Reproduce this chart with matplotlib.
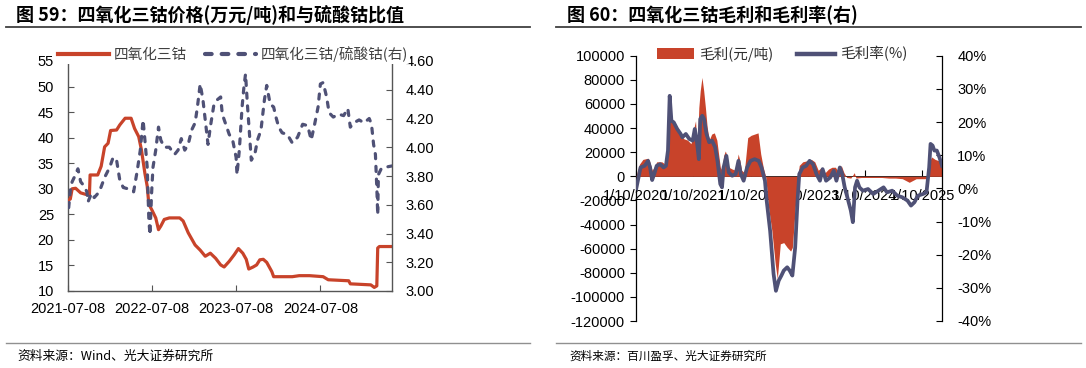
import matplotlib
matplotlib.use('Agg')
import matplotlib.pyplot as plt
import pandas as pd
import numpy as np
from matplotlib.lines import Line2D
from matplotlib.patches import Patch

plt.rcParams['font.family'] = ['Liberation Sans', 'Noto Sans CJK SC']
CJK = ['Noto Sans CJK SC', 'DejaVu Sans']

RED = '#C8432A'
NAVY = '#4F5176'

# ---------------- Left chart data ----------------
title_left = "图 59：四氧化三钴价格(万元/吨)和与硫酸钴比值"
title_right = "图 60：四氧化三钴毛利和毛利率(右)"
source_left = "资料来源：Wind、光大证券研究所"
source_right = "资料来源：百川盈孚、光大证券研究所"

co3o4_dates = ["2021-07-08", "2021-07-18", "2021-07-26", "2021-08-10", "2021-09-01", "2021-10-01",
               "2021-10-09", "2021-10-12", "2021-11-14", "2021-11-29", "2021-12-14", "2021-12-29",
               "2022-01-09", "2022-02-04", "2022-02-18", "2022-03-13", "2022-04-08", "2022-04-23",
               "2022-05-11", "2022-05-23", "2022-06-07", "2022-06-17", "2022-06-24", "2022-07-09",
               "2022-07-24", "2022-08-05", "2022-08-15", "2022-08-30", "2022-09-21", "2022-11-05",
               "2022-11-20", "2022-12-12", "2023-01-11", "2023-02-02", "2023-02-24", "2023-03-18",
               "2023-04-10", "2023-05-02", "2023-05-17", "2023-06-08", "2023-06-30", "2023-07-18",
               "2023-08-06", "2023-08-21", "2023-09-01", "2023-09-20", "2023-10-05", "2023-10-19",
               "2023-11-03", "2023-11-18", "2023-12-10", "2023-12-18", "2024-03-08", "2024-04-07",
               "2024-05-22", "2024-07-20", "2024-08-11", "2024-11-08", "2024-11-15", "2025-02-12",
               "2025-02-27", "2025-03-10", "2025-03-14", "2025-03-21", "2025-05-15"]
co3o4_price = [27.7, 28.0, 30.0, 30.1, 29.2, 28.8,
               28.8, 32.7, 32.7, 34.4, 38.2, 38.9,
               41.4, 41.5, 42.5, 43.8, 43.8, 41.8,
               40.2, 37.6, 33.0, 30.5, 27.0, 25.7,
               24.3, 22.0, 22.7, 24.0, 24.3, 24.3,
               23.7, 21.4, 19.0, 18.0, 16.8, 17.4,
               16.4, 15.1, 14.7, 15.8, 17.1, 18.3,
               17.4, 16.2, 14.3, 14.7, 15.1, 16.1,
               16.2, 15.6, 13.8, 12.8, 12.8, 13.0,
               13.0, 12.8, 12.2, 12.0, 11.4, 11.2,
               10.7, 11.0, 18.4, 18.7, 18.7]

ratio_dates = ["2021-07-11", "2021-07-18", "2021-07-26", "2021-08-07", "2021-08-20", "2021-09-01",
               "2021-09-16", "2021-09-28", "2021-10-03", "2021-10-18", "2021-10-30", "2021-11-21",
               "2021-12-14", "2022-01-05", "2022-01-20", "2022-02-04", "2022-02-18", "2022-03-05",
               "2022-03-27", "2022-04-19", "2022-05-04", "2022-05-18", "2022-05-30", "2022-06-07",
               "2022-06-17", "2022-06-24", "2022-06-29", "2022-07-06", "2022-07-12", "2022-07-24",
               "2022-08-05", "2022-08-15", "2022-08-30", "2022-09-21", "2022-10-14", "2022-10-29",
               "2022-11-12", "2022-11-27", "2022-12-12", "2022-12-27", "2023-01-11", "2023-01-21",
               "2023-02-02", "2023-02-14", "2023-02-24", "2023-03-08", "2023-03-18", "2023-04-02",
               "2023-04-17", "2023-05-02", "2023-05-09", "2023-05-24", "2023-06-08", "2023-06-23",
               "2023-07-08", "2023-07-12", "2023-07-22", "2023-08-03", "2023-08-11", "2023-08-18",
               "2023-08-26", "2023-09-02", "2023-09-12", "2023-09-27", "2023-10-09", "2023-10-24",
               "2023-11-08", "2023-11-18", "2023-12-03", "2023-12-18", "2023-12-28", "2024-01-09",
               "2024-01-24", "2024-02-15", "2024-03-08", "2024-03-31", "2024-04-22", "2024-05-14",
               "2024-05-29", "2024-06-13", "2024-06-28", "2024-07-08", "2024-07-20", "2024-08-04",
               "2024-08-15", "2024-09-02", "2024-09-25", "2024-10-17", "2024-11-04", "2024-11-15",
               "2024-11-30", "2024-12-23", "2025-01-14", "2025-02-05", "2025-02-15", "2025-02-24",
               "2025-03-04", "2025-03-10", "2025-03-14", "2025-03-17", "2025-03-29", "2025-04-13",
               "2025-05-15"]
ratio_values = [3.58, 3.70, 3.76, 3.80, 3.85, 3.76,
                3.73, 3.69, 3.62, 3.68, 3.65, 3.69,
                3.79, 3.86, 3.93, 3.91, 3.77, 3.72,
                3.71, 3.69, 3.83, 3.98, 4.19, 4.05,
                3.86, 3.50, 3.39, 3.68, 3.86, 3.98,
                4.14, 4.05, 4.00, 4.00, 3.95, 3.98,
                4.06, 3.98, 4.02, 4.12, 4.17, 4.28,
                4.44, 4.33, 4.19, 4.02, 4.14, 4.29,
                4.33, 4.35, 4.23, 4.16, 4.09, 4.05,
                3.93, 3.81, 3.98, 4.28, 4.42, 4.51,
                4.30, 4.14, 3.91, 3.95, 4.05, 4.12,
                4.33, 4.43, 4.30, 4.28, 4.21, 4.14,
                4.10, 4.09, 4.03, 4.07, 4.16, 4.15,
                4.05, 4.16, 4.28, 4.44, 4.45, 4.35,
                4.24, 4.21, 4.23, 4.22, 4.27, 4.14,
                4.17, 4.19, 4.17, 4.20, 4.16, 4.02,
                3.95, 3.72, 3.53, 3.81, 3.85, 3.86,
                3.87]

left_xticks = ["2021-07-08", "2022-07-08", "2023-07-08", "2024-07-08"]
left_yticks = [10, 15, 20, 25, 30, 35, 40, 45, 50, 55]
left_y2ticks = [3.00, 3.20, 3.40, 3.60, 3.80, 4.00, 4.20, 4.40, 4.60]
left_legend = ["四氧化三钴", "四氧化三钴/硫酸钴(右)"]

# ---------------- Right chart data ----------------
profit_dates = ["2020-01-10", "2020-02-01", "2020-02-23", "2020-03-27", "2020-04-07", "2020-04-22",
                "2020-05-05", "2020-05-21", "2020-06-23", "2020-07-14", "2020-07-25", "2020-08-05",
                "2020-08-14", "2020-08-23", "2020-09-07", "2020-09-29", "2020-10-21", "2020-11-12",
                "2020-12-04", "2020-12-26", "2021-01-10", "2021-01-24", "2021-02-04", "2021-02-14",
                "2021-02-23", "2021-03-06", "2021-03-17", "2021-03-28", "2021-04-08", "2021-04-21",
                "2021-05-07", "2021-05-24", "2021-06-09", "2021-06-20", "2021-07-01", "2021-07-12",
                "2021-07-22", "2021-08-02", "2021-08-13", "2021-08-24", "2021-09-15", "2021-10-07",
                "2021-10-23", "2021-11-03", "2021-11-14", "2021-12-01", "2021-12-23", "2022-01-14",
                "2022-02-05", "2022-02-27", "2022-03-16", "2022-04-01", "2022-04-16", "2022-04-23",
                "2022-05-04", "2022-05-26", "2022-06-17", "2022-06-30", "2022-07-19", "2022-08-10",
                "2022-09-01", "2022-09-23", "2022-10-04", "2022-10-26", "2022-11-06", "2022-11-17",
                "2022-12-09", "2023-01-11", "2023-02-02", "2023-02-24", "2023-03-18", "2023-04-09",
                "2023-05-01", "2023-05-23", "2023-06-14", "2023-07-06", "2023-07-27", "2023-08-12",
                "2023-08-29", "2023-09-16", "2023-10-12", "2023-11-03", "2023-11-14", "2023-12-17",
                "2024-02-21", "2024-04-27", "2024-06-10", "2024-07-23", "2024-09-05", "2024-10-19",
                "2024-12-02", "2025-02-17", "2025-02-28", "2025-03-11", "2025-04-02", "2025-04-24",
                "2025-05-15"]
profit_values = [0, 10000, 14000, 15000, 12000, 5000,
                 7500, 12000, 12000, 10000, 12000, 46000,
                 65000, 46000, 43000, 38000, 34000, 31000,
                 30000, 27000, 38000, 46000, 21000, 57000,
                 71000, 82000, 71000, 57000, 41000, 30000,
                 35000, 36000, 30000, 18500, 7500, 5000,
                 17000, 21000, 17000, 7500, 6000, 5000,
                 18500, 13000, 5000, 3000, 32000, 34000,
                 35000, 36000, 18500, 7500, 0, -9000,
                 -25000, -45000, -73000, -85000, -56000, -55000,
                 -59000, -62000, -59000, -20000, -2000, 9000,
                 12000, 13000, 14000, 12000, 5000, 7500,
                 3000, 6000, 7500, 7500, 3000, 9000,
                 3000, -1000, -1500, 3000, -1500, -1000,
                 -1000, -1000, -1500, -1500, -2000, -5000,
                 -2000, -2000, 13000, 16000, 14000, 13000,
                 7500]

margin_dates = ["2020-01-12", "2020-02-08", "2020-03-05", "2020-03-27", "2020-04-09", "2020-04-22",
                "2020-05-05", "2020-05-21", "2020-06-12", "2020-07-04", "2020-07-19", "2020-08-01",
                "2020-08-12", "2020-08-23", "2020-09-07", "2020-09-29", "2020-10-21", "2020-11-01",
                "2020-11-23", "2020-12-15", "2021-01-06", "2021-01-19", "2021-02-01", "2021-02-14",
                "2021-02-23", "2021-03-08", "2021-03-19", "2021-04-04", "2021-04-21", "2021-05-09",
                "2021-05-29", "2021-06-13", "2021-07-01", "2021-07-12", "2021-07-22", "2021-08-09",
                "2021-08-24", "2021-09-15", "2021-10-07", "2021-10-25", "2021-11-09", "2021-11-27",
                "2021-12-19", "2022-01-10", "2022-02-05", "2022-03-03", "2022-03-21", "2022-04-12",
                "2022-04-23", "2022-05-15", "2022-06-06", "2022-06-21", "2022-07-09", "2022-07-26",
                "2022-08-10", "2022-09-01", "2022-09-17", "2022-10-04", "2022-10-22", "2022-11-06",
                "2022-11-17", "2022-12-09", "2022-12-31", "2023-01-22", "2023-02-13", "2023-03-07",
                "2023-03-29", "2023-04-15", "2023-05-07", "2023-06-03", "2023-06-25", "2023-07-12",
                "2023-08-03", "2023-08-18", "2023-09-03", "2023-09-20", "2023-10-12", "2023-10-25",
                "2023-11-08", "2023-11-21", "2023-12-06", "2023-12-28", "2024-01-30", "2024-03-03",
                "2024-04-05", "2024-05-08", "2024-05-30", "2024-07-02", "2024-08-03", "2024-09-05",
                "2024-10-08", "2024-10-30", "2024-11-21", "2024-12-13", "2025-01-15", "2025-02-06",
                "2025-02-23", "2025-03-04", "2025-03-17", "2025-03-28", "2025-04-13", "2025-04-30",
                "2025-05-16"]
margin_values = [0.0, 6.3, 6.8, 8.3, 6.3, 2.5,
                 4.3, 6.8, 7.3, 6.3, 6.8, 11.4,
                 27.9, 20.4, 19.9, 17.9, 16.4, 15.4,
                 16.4, 14.9, 14.4, 17.9, 14.4, 8.8,
                 20.9, 21.9, 20.9, 16.4, 13.9, 14.4,
                 12.4, 8.3, 1.3, 0.3, 6.3, 9.8,
                 4.8, 3.8, 4.3, 8.3, 4.3, 2.3,
                 6.3, 8.3, 8.8, 8.3, 6.3, 2.3,
                 -3.7, -12.8, -25.8, -30.9, -27.8, -26.3,
                 -24.8, -23.8, -24.8, -26.3, -17.8, -3.7,
                 4.3, 6.3, 6.8, 8.3, 7.3, 4.3,
                 2.3, 5.8, 2.3, 3.3, 5.3, 2.3,
                 6.3, 4.3, 0.3, -2.7, -6.7, -10.2,
                 0.3, 2.3, 0.3, -0.7, -0.2, -1.7,
                 -0.7, 0.3, -1.2, -0.7, -2.2, -2.7,
                 -3.7, -5.2, -4.2, -2.2, -1.7, -1.2,
                 6.3, 13.4, 12.9, 11.4, 11.4, 9.3,
                 6.8]

right_xticks = ["2020-01-10", "2021-01-10", "2022-01-10", "2023-01-10", "2024-01-10", "2025-01-10"]
right_xticklabels = ["1/10/2020", "1/10/2021", "1/10/2022", "1/10/2023", "1/10/2024", "1/10/2025"]
right_yticks = [100000, 80000, 60000, 40000, 20000, 0, -20000, -40000, -60000, -80000, -100000, -120000]
right_y2ticks = [40, 30, 20, 10, 0, -10, -20, -30, -40]
right_legend = ["毛利(元/吨)", "毛利率(%)"]

# ---------------- Figure ----------------
W, H = 1086, 368
fig = plt.figure(figsize=(W / 100, H / 100), dpi=100)


def fx(px):
    return px / W


def fy(py):
    return 1 - py / H


# Titles and rules
fig.text(fx(16), fy(15), title_left, fontsize=13, fontweight='bold', family=CJK, va='center', ha='left')
fig.text(fx(567), fy(15), title_right, fontsize=13, fontweight='bold', family=CJK, va='center', ha='left')
for x0, x1 in [(6, 530), (556, 1081)]:
    fig.add_artist(Line2D([fx(x0), fx(x1)], [fy(27), fy(27)], color='#404040', lw=1.3))
    fig.add_artist(Line2D([fx(x0), fx(x1)], [fy(343), fy(343)], color='#909090', lw=1.0))
fig.text(fx(17), fy(356), source_left, fontsize=9.2, family=CJK, va='center', ha='left')
fig.text(fx(569), fy(356), source_right, fontsize=8.4, family=CJK, va='center', ha='left')

# ---------------- Left chart ----------------
LSP = '#555555'
axL = fig.add_axes([fx(68), fy(291), fx(392 - 68), (291 - 61) / H])
axL2 = axL.twinx()
d1 = pd.to_datetime(co3o4_dates)
d2 = pd.to_datetime(ratio_dates)
axL.plot(d1, co3o4_price, color=RED, lw=2.3, solid_joinstyle='round', solid_capstyle='round', zorder=3)
axL2.plot(d2, ratio_values, color=NAVY, lw=2.3, dashes=(1.6, 2.4), dash_capstyle='round', zorder=3)

axL.set_xlim(pd.Timestamp("2021-07-08"), pd.Timestamp("2025-05-15"))
axL.set_ylim(10, 55)
axL2.set_ylim(3.0, 4.6)
axL.set_yticks(left_yticks)
axL.set_yticklabels([str(v) for v in left_yticks])
axL2.set_yticks(left_y2ticks)
axL2.set_yticklabels([f"{v:.2f}" for v in left_y2ticks])
axL.set_xticks(pd.to_datetime(left_xticks))
axL.set_xticklabels(left_xticks)
for a in (axL, axL2):
    a.spines['top'].set_visible(False)
    for s in a.spines.values():
        s.set_color(LSP)
        s.set_linewidth(1.0)
axL2.spines['left'].set_visible(False)
axL2.spines['bottom'].set_visible(False)
axL.spines['right'].set_visible(False)
axL.tick_params(axis='y', direction='in', length=4, width=0.8, color=LSP, labelsize=10.5, pad=10)
axL.tick_params(axis='x', direction='in', length=4, width=0.8, color=LSP, labelsize=10.5, pad=8)
axL2.tick_params(axis='y', direction='in', length=4, width=0.8, color=LSP, labelsize=10.5, pad=10)

legL = fig.legend(handles=[Line2D([], [], color=RED, lw=3),
                           Line2D([], [], color=NAVY, lw=3, dashes=(1.6, 2.4), dash_capstyle='round')],
                  labels=left_legend, loc='center', bbox_to_anchor=(fx(233), fy(54)), ncol=2,
                  frameon=True, facecolor='white', edgecolor='none', framealpha=1.0,
                  borderpad=0.15, handlelength=3.5, handletextpad=0.3, columnspacing=1.3,
                  prop={'family': CJK, 'size': 10.5})
for t in legL.get_texts():
    t.set_color('#404040')

# ---------------- Right chart ----------------
axR = fig.add_axes([fx(636), fy(321), fx(942 - 636), (321 - 55.7) / H])
axR2 = axR.twinx()
dp = pd.to_datetime(profit_dates)
dm = pd.to_datetime(margin_dates)
axR.fill_between(dp, profit_values, 0, color=RED, lw=0, zorder=3)
axR2.plot(dm, margin_values, color=NAVY, lw=2.7, solid_joinstyle='round', zorder=3)

axR.set_xlim(pd.Timestamp("2020-01-10"), pd.Timestamp("2025-05-16"))
axR.set_ylim(-120000, 100000)
axR2.set_ylim(-40, 40)
axR.set_yticks(right_yticks)
axR.set_yticklabels([str(v) for v in right_yticks])
axR2.set_yticks(right_y2ticks)
axR2.set_yticklabels([f"{v}%" for v in right_y2ticks])
axR.set_xticks(pd.to_datetime(right_xticks))
axR.set_xticklabels(right_xticklabels)
axR.spines['bottom'].set_position(('data', 0))
axR.spines['top'].set_visible(False)
axR.spines['right'].set_visible(False)
for k in ('top', 'left', 'bottom'):
    axR2.spines[k].set_visible(False)
for a in (axR, axR2):
    for s in a.spines.values():
        s.set_color('black')
        s.set_linewidth(0.9)
axR.spines['bottom'].set_linewidth(0.6)
axR.tick_params(axis='y', direction='out', length=4, width=0.8, labelsize=10.5, pad=4)
axR.tick_params(axis='x', direction='in', length=4, width=0.8, labelsize=10.5, pad=9)
axR2.tick_params(axis='y', direction='in', length=4, width=0.8, labelsize=10.5, pad=11)

legR = fig.legend(handles=[Patch(facecolor=RED, edgecolor='none'),
                           Line2D([], [], color=NAVY, lw=3.2)],
                  labels=right_legend, loc='center', bbox_to_anchor=(fx(782), fy(54)), ncol=2,
                  frameon=False, borderpad=0.15, handlelength=2.6, handletextpad=0.35,
                  columnspacing=1.6, prop={'family': CJK, 'size': 10.5})
for t in legR.get_texts():
    t.set_color('#303030')

fig.savefig('out.png', dpi=100)
